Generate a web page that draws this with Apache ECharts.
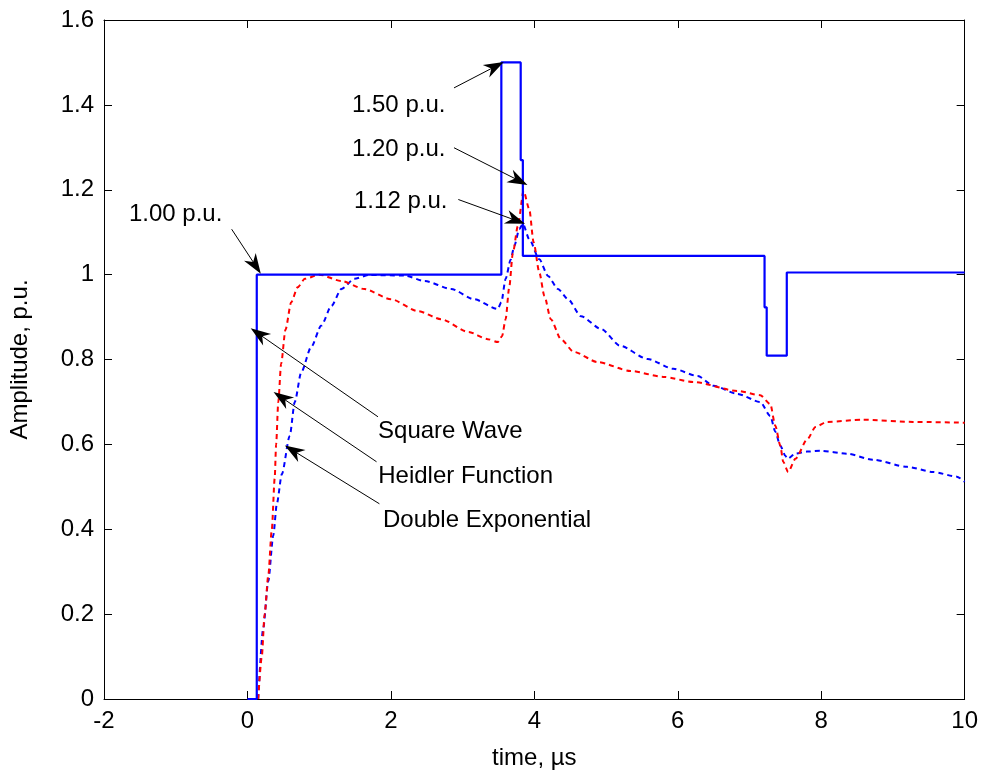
<!DOCTYPE html>
<html>
<head>
<meta charset="utf-8">
<script src="https://cdn.jsdelivr.net/npm/echarts@6/dist/echarts.min.js"></script>
<style>
html,body{margin:0;padding:0;background:#fff;}
#chart{width:981px;height:775px;}
</style>
</head>
<body>
<div id="chart"></div>
<script>
// ---- data (time in µs, amplitude in p.u.) ----
const xTickLabels = ['-2', '0', '2', '4', '6', '8', '10'];
const yTickLabels = ['0', '0.2', '0.4', '0.6', '0.8', '1', '1.2', '1.4', '1.6'];

const squareWave = [
  [0, 0], [0.13, 0], [0.13, 1.0], [3.54, 1.0], [3.54, 1.5], [3.81, 1.5],
  [3.81, 1.27], [3.84, 1.27], [3.84, 1.044], [7.21, 1.044], [7.21, 0.923],
  [7.24, 0.923], [7.24, 0.809], [7.52, 0.809], [7.52, 1.005], [10, 1.005]
];

const heidler = [
  [0.15, 0], [0.2, 0.1], [0.24, 0.2], [0.29, 0.29], [0.34, 0.40], [0.38, 0.52],
  [0.40, 0.60], [0.43, 0.70], [0.47, 0.79], [0.53, 0.87], [0.61, 0.935], [0.7, 0.97],
  [0.8, 0.99], [1.0, 1.0], [1.31, 0.985], [1.63, 0.966], [2.0, 0.942], [2.38, 0.914],
  [2.7, 0.895], [3.08, 0.865], [3.35, 0.848], [3.49, 0.841], [3.55, 0.855], [3.60, 0.895],
  [3.65, 0.97], [3.70, 1.05], [3.77, 1.114], [3.85, 1.197], [3.93, 1.154], [3.99, 1.076],
  [4.07, 1.005], [4.14, 0.95], [4.23, 0.895], [4.37, 0.848], [4.55, 0.818], [4.88, 0.794],
  [5.34, 0.773], [5.8, 0.759], [6.22, 0.747], [6.83, 0.726], [7.15, 0.716], [7.29, 0.695],
  [7.36, 0.644], [7.43, 0.597], [7.47, 0.559], [7.54, 0.535], [7.64, 0.566], [7.81, 0.613],
  [7.92, 0.641], [8.08, 0.653], [8.58, 0.658], [9.28, 0.653], [10, 0.651]
];

const doubleExp = [
  [0.15, 0], [0.22, 0.167], [0.29, 0.277], [0.36, 0.385], [0.41, 0.46], [0.48, 0.53],
  [0.59, 0.62], [0.66, 0.70], [0.75, 0.77], [0.89, 0.83], [1.03, 0.88], [1.17, 0.926],
  [1.31, 0.966], [1.49, 0.99], [1.69, 0.999], [2.19, 0.998], [2.47, 0.985], [2.84, 0.966],
  [3.16, 0.942], [3.49, 0.919], [3.54, 0.935], [3.6, 0.99], [3.67, 1.035], [3.72, 1.067],
  [3.79, 1.107], [3.84, 1.12], [3.93, 1.083], [4.07, 1.036], [4.19, 0.997], [4.33, 0.966],
  [4.47, 0.942], [4.65, 0.902], [4.93, 0.872], [5.2, 0.832], [5.58, 0.801], [5.94, 0.778],
  [6.28, 0.761], [6.5, 0.738], [6.83, 0.719], [7.15, 0.70], [7.29, 0.667], [7.36, 0.63],
  [7.43, 0.597], [7.5, 0.573], [7.53, 0.566], [7.64, 0.578], [7.8, 0.583], [7.99, 0.585],
  [8.36, 0.578], [8.72, 0.564], [9.2, 0.547], [9.56, 0.535], [9.89, 0.524], [10, 0.512]
];

// annotation texts (left/middle anchor in data coords)
const noteTexts = ['1.00 p.u.', '1.50 p.u.', '1.20 p.u.', '1.12 p.u.', 'Square Wave', 'Heidler Function', 'Double Exponential'];
const noteAnchors = [[-1.652, 1.142], [1.458, 1.400], [1.458, 1.295], [1.486, 1.172], [1.821, 0.630], [1.824, 0.524], [1.890, 0.421]];
// arrows: [from, to]
const arrowFrom = [[-0.22, 1.107], [2.88, 1.44], [2.88, 1.299], [2.94, 1.177], [1.82, 0.665], [1.80, 0.559], [1.84, 0.46]];
const arrowTo = [[0.11, 1.022], [3.45, 1.49], [3.78, 1.222], [3.74, 1.128], [0.16, 0.86], [0.48, 0.71], [0.64, 0.585]];

// ---- chart ----
const FONT = 'Liberation Sans, Arial, sans-serif';
const chart = echarts.init(document.getElementById('chart'), null, {renderer: 'canvas'});

const axisCommon = {
  axisLine: {show: true, onZero: false, lineStyle: {color: '#000', width: 1}},
  axisTick: {show: true, inside: true, length: 8, lineStyle: {color: '#000', width: 1}},
  splitLine: {show: false}
};

const ARROW = 'path://M0,0 L7,20 L0,14 L-7,20 Z';

const option = {
  animation: false,
  backgroundColor: '#fff',
  grid: {left: 102, right: 16, top: 20, bottom: 74, containLabel: false},
  xAxis: [
    Object.assign({
      type: 'value', min: -2, max: 10, interval: 2, position: 'bottom',
      name: 'time, µs', nameLocation: 'middle', nameGap: 47,
      nameTextStyle: {fontFamily: FONT, fontSize: 24, color: '#000'},
      axisLabel: {
        fontFamily: FONT, fontSize: 24, color: '#000', margin: 10,
        formatter: v => xTickLabels[Math.round((v + 2) / 2)]
      }
    }, axisCommon),
    Object.assign({
      type: 'value', min: -2, max: 10, interval: 2, position: 'top',
      axisLabel: {show: false}
    }, axisCommon)
  ],
  yAxis: [
    Object.assign({
      type: 'value', min: 0, max: 1.6, interval: 0.2, position: 'left',
      name: 'Amplitude, p.u.', nameLocation: 'middle', nameGap: 72, nameRotate: 90,
      nameTextStyle: {fontFamily: FONT, fontSize: 24, color: '#000'},
      axisLabel: {
        fontFamily: FONT, fontSize: 24, color: '#000', margin: 10,
        formatter: v => yTickLabels[Math.round(v / 0.2)]
      }
    }, axisCommon),
    Object.assign({
      type: 'value', min: 0, max: 1.6, interval: 0.2, position: 'right',
      axisLabel: {show: false}
    }, axisCommon)
  ],
  series: [
    {
      name: 'Double Exponential', type: 'line', data: doubleExp,
      showSymbol: false, symbol: 'none', smooth: 0.25, smoothMonotone: 'x',
      lineStyle: {color: '#0000ff', width: 2, type: [5, 4]}, z: 2
    },
    {
      name: 'Heidler Function', type: 'line', data: heidler,
      showSymbol: false, symbol: 'none', smooth: 0.25, smoothMonotone: 'x',
      lineStyle: {color: '#ff0000', width: 2, type: [5, 4]}, z: 3
    },
    {
      name: 'Square Wave', type: 'line', data: squareWave,
      showSymbol: false, symbol: 'none',
      lineStyle: {color: '#0000ff', width: 2.2}, z: 4
    },
    {
      name: 'notes', type: 'scatter', symbolSize: 0, z: 10,
      itemStyle: {opacity: 1, color: '#000'},
      data: noteTexts.map((t, i) => ({name: t, value: noteAnchors[i]})),
      label: {
        show: true, position: 'right', distance: 0, formatter: p => p.name,
        fontFamily: FONT, fontSize: 24, color: '#000000', opacity: 1
      },
      markLine: {
        silent: true, animation: false,
        symbol: ['none', ARROW], symbolSize: 20, symbolKeepAspect: true,
        label: {show: false},
        itemStyle: {color: '#000'},
        lineStyle: {color: '#000', width: 1, type: 'solid', opacity: 1},
        emphasis: {disabled: true},
        data: arrowFrom.map((f, i) => [{coord: f}, {coord: arrowTo[i]}])
      }
    }
  ]
};
chart.setOption(option);
</script>
</body>
</html>
